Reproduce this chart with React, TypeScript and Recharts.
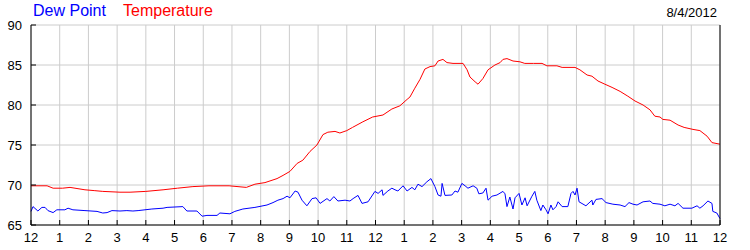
import { LineChart, Line, XAxis, YAxis, CartesianGrid } from 'recharts'

// hours after midnight, 0..24
const tempHours = [
  0, 0.56, 0.77, 1.1, 1.36, 1.88, 2.2, 2.5, 3.1, 3.45, 4.0, 4.6, 5.1, 5.64, 6.2, 6.9, 7.5, 7.8, 8.15,
  8.57, 8.78, 9.02, 9.27, 9.47, 9.72, 9.96, 10.17, 10.34, 10.59, 10.76, 11.0, 11.2, 11.56, 11.9, 12.26,
  12.57, 12.85, 13.1, 13.2, 13.37, 13.55, 13.72, 13.9, 14.07, 14.18, 14.35, 14.49, 14.7, 15.05, 15.19,
  15.29, 15.47, 15.57, 15.74, 15.92, 16.16, 16.34, 16.44, 16.58, 16.79, 17.03, 17.2, 17.5, 17.8, 17.97,
  18.32, 18.5, 18.95, 19.12, 19.37, 19.54, 19.75, 19.99, 20.24, 20.52, 20.79, 21.04, 21.32, 21.56,
  21.73, 21.91, 22.01, 22.26, 22.54, 22.75, 23.06, 23.3, 23.55, 23.72, 24,
]
const tempValues = [
  69.9, 69.9, 69.6, 69.6, 69.7, 69.4, 69.3, 69.2, 69.1, 69.1, 69.2, 69.4, 69.6, 69.8, 69.9, 69.9, 69.7,
  70.1, 70.3, 70.8, 71.2, 71.7, 72.7, 73.1, 74.2, 75.0, 76.3, 76.6, 76.7, 76.5, 76.8, 77.2, 77.9, 78.5,
  78.75, 79.5, 79.9, 80.7, 81.0, 82.1, 83.2, 84.5, 84.8, 84.9, 85.5, 85.7, 85.3, 85.2, 85.2, 84.4, 83.5,
  82.9, 82.6, 83.3, 84.4, 85.0, 85.3, 85.7, 85.8, 85.5, 85.4, 85.2, 85.2, 85.2, 84.9, 84.9, 84.7, 84.7,
  84.4, 83.75, 83.6, 83.0, 82.6, 82.2, 81.7, 81.1, 80.5, 80.0, 79.4, 78.6, 78.5, 78.2, 78.1, 77.5, 77.2,
  76.95, 76.8, 76.1, 75.3, 75.1,
]

const dewHours = [
  0, 0.07, 0.24, 0.38, 0.49, 0.59, 0.77, 0.9, 1.18, 1.29, 1.46, 1.88, 2.3, 2.5, 2.65, 2.82, 3.1, 3.34,
  3.55, 3.73, 4.21, 4.6, 4.74, 5.29, 5.43, 5.78, 5.96, 6.13, 6.48, 6.58, 6.93, 7.1, 7.38, 7.8, 8.22,
  8.43, 8.6, 8.78, 8.92, 9.02, 9.2, 9.3, 9.44, 9.61, 9.79, 9.93, 10.07, 10.31, 10.41, 10.55, 10.69,
  10.94, 11.11, 11.22, 11.39, 11.53, 11.74, 11.98, 12.09, 12.23, 12.26, 12.43, 12.57, 12.68, 12.78,
  12.96, 13.1, 13.27, 13.37, 13.48, 13.62, 13.79, 13.93, 14.07, 14.18, 14.28, 14.32, 14.42, 14.66,
  14.77, 14.87, 15.01, 15.12, 15.22, 15.4, 15.53, 15.6, 15.74, 15.85, 15.92, 16.06, 16.23, 16.44,
  16.51, 16.58, 16.68, 16.79, 16.86, 17.0, 17.1, 17.21, 17.28, 17.45, 17.55, 17.62, 17.76, 17.83,
  17.94, 18.01, 18.11, 18.18, 18.29, 18.36, 18.5, 18.7, 18.81, 18.88, 18.95, 19.02, 19.09, 19.33,
  19.54, 19.57, 19.68, 19.89, 20.03, 20.27, 20.52, 20.69, 20.83, 20.97, 21.11, 21.32, 21.56, 21.66,
  21.91, 22.08, 22.26, 22.43, 22.54, 22.71, 23.02, 23.2, 23.3, 23.41, 23.58, 23.72, 23.75, 23.89, 24,
]
const dewValues = [
  66.7, 67.3, 66.75, 67.2, 67.2, 66.8, 66.55, 66.9, 66.9, 67.1, 66.9, 66.8, 66.7, 66.5, 66.55, 66.8,
  66.75, 66.8, 66.75, 66.8, 67.0, 67.1, 67.2, 67.3, 66.75, 66.75, 66.1, 66.2, 66.2, 66.5, 66.4, 66.7,
  67.0, 67.2, 67.5, 67.8, 68.1, 68.3, 68.6, 68.4, 69.25, 69.1, 68.1, 67.4, 68.3, 68.4, 67.7, 68.3,
  68.0, 68.55, 68.0, 68.1, 68.0, 68.3, 68.7, 67.7, 67.9, 69.2, 68.95, 69.4, 68.7, 69.25, 69.6, 69.4,
  69.25, 69.9, 69.25, 69.7, 69.4, 70.1, 69.8, 70.4, 70.8, 69.8, 68.75, 68.6, 70.2, 68.7, 68.75, 69.25,
  69.1, 70.2, 69.9, 69.6, 69.9, 69.6, 68.9, 69.0, 69.6, 68.1, 68.6, 68.75, 69.2, 68.9, 67.3, 68.5, 67.0,
  68.4, 68.95, 67.5, 68.4, 67.4, 68.6, 69.2, 68.1, 66.8, 67.5, 66.9, 66.4, 67.5, 66.9, 67.3, 67.9,
  67.3, 67.3, 68.95, 69.2, 68.75, 69.6, 67.9, 67.4, 68.1, 67.5, 68.2, 68.3, 67.8, 67.6, 67.5, 67.3,
  67.8, 67.6, 67.5, 67.9, 68.0, 67.7, 67.6, 67.4, 67.6, 67.4, 67.7, 67.1, 67.1, 67.4, 67.1, 67.4, 68.0,
  67.7, 66.7, 66.5, 65.8,
]

const hourTicks = [0, 1, 2, 3, 4, 5, 6, 7, 8, 9, 10, 11, 12, 13, 14, 15, 16, 17, 18, 19, 20, 21, 22, 23, 24]
const tempTicks = [65, 70, 75, 80, 85, 90]
const dateLabel = '8/4/2012'

const tempData = tempHours.map((h, i) => ({ h, v: tempValues[i] }))
const dewData = dewHours.map((h, i) => ({ h, v: dewValues[i] }))

const font = '"Liberation Sans", Arial, sans-serif'
const tickStyle = { fill: '#000', fontSize: 13, fontFamily: font }

const hourLabel = (h: number) => String(h % 12 === 0 ? 12 : h % 12)

export default function App() {
  return (
    <div style={{ position: 'absolute', left: 0, top: 0, width: 750, height: 250, background: '#fff', fontFamily: font }}>
      <LineChart width={750} height={250} margin={{ top: 25, right: 0, bottom: 0, left: 0 }}>
        <CartesianGrid xAxisId="b" yAxisId="l" stroke="#cccccc" />
        <XAxis
          xAxisId="b"
          dataKey="h"
          type="number"
          domain={[0, 24]}
          ticks={hourTicks}
          height={25}
          tickFormatter={hourLabel}
          tick={tickStyle}
          tickSize={-5}
          tickMargin={13}
          axisLine={{ stroke: '#000' }}
          tickLine={{ stroke: '#000' }}
          interval={0}
        />
        <XAxis
          xAxisId="t"
          orientation="top"
          type="number"
          domain={[0, 24]}
          ticks={hourTicks}
          height={0}
          tick={false}
          tickSize={-5}
          axisLine={{ stroke: '#000' }}
          tickLine={{ stroke: '#000' }}
          interval={0}
        />
        <YAxis
          yAxisId="l"
          domain={[65, 90]}
          ticks={tempTicks}
          width={31}
          tick={tickStyle}
          tickSize={-5}
          tickMargin={14}
          axisLine={{ stroke: '#000' }}
          tickLine={{ stroke: '#000' }}
          interval={0}
        />
        <YAxis
          yAxisId="r"
          orientation="right"
          domain={[65, 90]}
          ticks={tempTicks}
          width={30}
          tick={tickStyle}
          tickSize={-5}
          tickMargin={12}
          axisLine={{ stroke: '#000' }}
          tickLine={{ stroke: '#000' }}
          interval={0}
        />
        <Line
          data={tempData}
          dataKey="v"
          xAxisId="b"
          yAxisId="l"
          type="linear"
          stroke="#ff0000"
          strokeWidth={1}
          dot={false}
          isAnimationActive={false}
        />
        <Line
          data={dewData}
          dataKey="v"
          xAxisId="b"
          yAxisId="l"
          type="linear"
          stroke="#0000ff"
          strokeWidth={1}
          dot={false}
          isAnimationActive={false}
        />
      </LineChart>
      <div style={{ position: 'absolute', left: 33, top: 2, fontSize: 16, color: '#0000ff', lineHeight: '18px' }}>Dew Point</div>
      <div style={{ position: 'absolute', left: 123, top: 2, fontSize: 16, color: '#ff0000', lineHeight: '18px' }}>Temperature</div>
      <div style={{ position: 'absolute', right: 33, top: 5, fontSize: 13, color: '#000', lineHeight: '15px' }}>{dateLabel}</div>
    </div>
  )
}
